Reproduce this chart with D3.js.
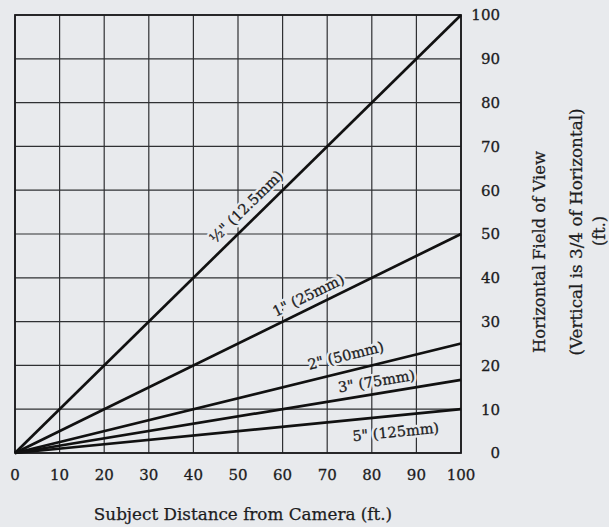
<!DOCTYPE html>
<html>
<head>
<meta charset="utf-8">
<script src="https://cdn.jsdelivr.net/npm/d3@7"></script>
<style>
  html, body { margin: 0; padding: 0; background: #e8eaed; }
  svg { display: block; }
</style>
</head>
<body>
<svg id="chart" width="609" height="527"></svg>
<script>
// ---- data ----
const xTicks = [0, 10, 20, 30, 40, 50, 60, 70, 80, 90, 100];
const yTicks = [0, 10, 20, 30, 40, 50, 60, 70, 80, 90, 100];
const lensLabels = ['½" (12.5mm)', '1" (25mm)', '2" (50mm)', '3" (75mm)', '5" (125mm)'];
// horizontal field of view (ft) at distance 0 and 100 ft
const distances = [0, 100];
const fovAt0 = [0, 0, 0, 0, 0];
const fovAt100 = [100, 50, 25, 16.7, 10];
// label anchor along each line (subject distance, ft) and side
const labelAt = [54, 67, 75, 81.5, 85];
const labelSide = [14, 12.5, 16, 12.5, -16];

const xTitle = "Subject Distance from Camera (ft.)";
const yTitle1 = "Horizontal Field of View";
const yTitle2 = "(Vertical is 3/4 of Horizontal)";
const yTitle3 = "(ft.)";

// ---- chart ----
const svg = d3.select("#chart");
const x = d3.scaleLinear().domain([0, 100]).range([15, 461]);
const y = d3.scaleLinear().domain([0, 100]).range([453, 15]);
const FONT = "'DejaVu Serif', 'Liberation Serif', serif";
const ink = "#1c1c1e";
const paper = "#e8eaed";

svg.append("rect").attr("width", 609).attr("height", 527).attr("fill", paper);

// grid
const grid = svg.append("g");
grid.selectAll("line.v").data(xTicks).join("line")
  .attr("x1", d => x(d)).attr("x2", d => x(d))
  .attr("y1", y(0)).attr("y2", y(100))
  .attr("stroke", "#2f3033").attr("stroke-width", 1.2);
grid.selectAll("line.h").data(yTicks).join("line")
  .attr("y1", d => y(d)).attr("y2", d => y(d))
  .attr("x1", x(0)).attr("x2", x(100))
  .attr("stroke", "#2f3033").attr("stroke-width", 1.2);

// border
svg.append("rect")
  .attr("x", x(0)).attr("y", y(100))
  .attr("width", x(100) - x(0)).attr("height", y(0) - y(100))
  .attr("fill", "none").attr("stroke", ink).attr("stroke-width", 1.8);

// labels on lines (with paper-coloured halo to break gridlines)
const labels = svg.append("g");
lensLabels.forEach((t, i) => {
  const slopeData = (fovAt100[i] - fovAt0[i]) / (distances[1] - distances[0]);
  const px0 = x(0), py0 = y(fovAt0[i]);
  const px1 = x(100), py1 = y(fovAt100[i]);
  const ang = Math.atan2(py0 - py1, px1 - px0);
  const lx = labelAt[i];
  const ly = fovAt0[i] + slopeData * lx;
  const d = labelSide[i];
  const cx = x(lx) - Math.sin(ang) * d;
  const cy = y(ly) - Math.cos(ang) * d;
  const g = labels.append("g")
    .attr("transform", `translate(${cx},${cy}) rotate(${-ang * 180 / Math.PI})`);
  g.append("text")
    .attr("text-anchor", "middle").attr("dy", "0.36em")
    .attr("font-family", FONT).attr("font-size", 14.5)
    .attr("fill", "none")
    .attr("stroke", paper).attr("stroke-width", 5).attr("stroke-linejoin", "round")
    .text(t);
  g.append("text")
    .attr("text-anchor", "middle").attr("dy", "0.36em")
    .attr("font-family", FONT).attr("font-size", 14.5)
    .attr("fill", ink).attr("stroke", ink).attr("stroke-width", 0.3)
    .text(t);
});

// lines
const lineGen = d3.line().x(d => x(d[0])).y(d => y(d[1]));
svg.append("g").selectAll("path").data(fovAt100).join("path")
  .attr("d", (v, i) => lineGen([[distances[0], fovAt0[i]], [distances[1], v]]))
  .attr("fill", "none").attr("stroke", "#111").attr("stroke-width", 2.7);

// x tick labels
svg.append("g").selectAll("text").data(xTicks).join("text")
  .attr("x", d => x(d)).attr("y", 480)
  .attr("text-anchor", "middle")
  .attr("font-family", FONT).attr("font-size", 15).attr("fill", ink)
  .attr("stroke", ink).attr("stroke-width", 0.3)
  .text(d => d);

// y tick labels (right side)
svg.append("g").selectAll("text").data(yTicks).join("text")
  .attr("x", 500).attr("y", d => y(d)).attr("dy", "0.36em")
  .attr("text-anchor", "end")
  .attr("font-family", FONT).attr("font-size", 15).attr("fill", ink)
  .attr("stroke", ink).attr("stroke-width", 0.3)
  .text(d => d);

// x title
svg.append("text").attr("x", 243).attr("y", 520)
  .attr("text-anchor", "middle")
  .attr("font-family", FONT).attr("font-size", 16.8).attr("fill", ink)
  .attr("stroke", ink).attr("stroke-width", 0.25)
  .text(xTitle);

// y titles (rotated)
const yt = [[yTitle1, 539, 252, 16.4], [yTitle2, 576, 232, 16.8], [yTitle3, 599, 231, 16]];
yt.forEach(([t, tx, ty, fs]) => {
  svg.append("text")
    .attr("transform", `translate(${tx},${ty}) rotate(-90)`)
    .attr("text-anchor", "middle").attr("dy", "0.36em")
    .attr("font-family", FONT).attr("font-size", fs).attr("fill", ink)
    .attr("stroke", ink).attr("stroke-width", 0.25)
    .text(t);
});
</script>
</body>
</html>
